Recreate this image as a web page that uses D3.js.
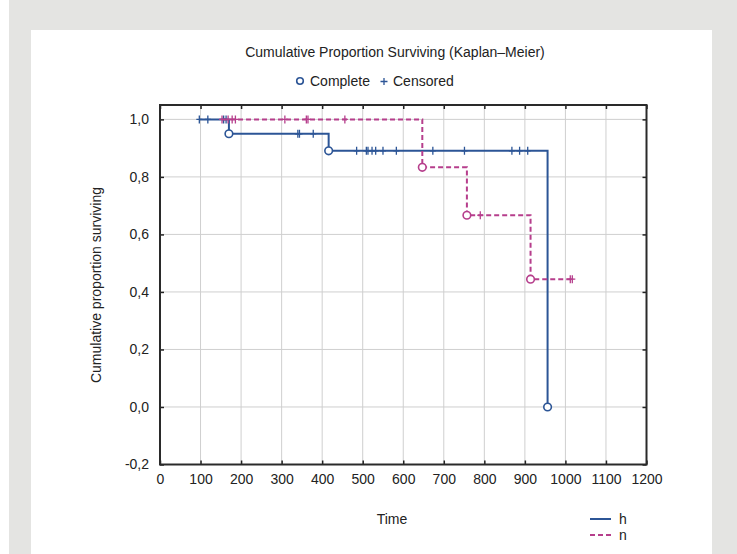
<!DOCTYPE html>
<html>
<head>
<meta charset="utf-8">
<script src="https://cdn.jsdelivr.net/npm/d3@7"></script>
<style>
  html, body { margin: 0; padding: 0; background: #fff; }
  svg { display: block; }
  text { font-family: "Liberation Sans", Arial, sans-serif; fill: #222; }
</style>
</head>
<body>
<svg id="chart" width="737" height="554"></svg>
<script>
// Kaplan–Meier estimates for the two groups
const groups = ["h", "n"];

// group h: event times, survival level after each step, censored times
const hEventTimes = [170, 416, 956];
const hLevels = [1.0, 0.95, 0.8906, 0.0];
const hCensored = [97, 118, 157, 163, 340, 344, 378, 485, 509, 513, 523, 532, 550, 583, 673, 751, 868, 887, 907];

// group n
const nEventTimes = [647, 757, 914];
const nLevels = [1.0, 0.8333, 0.6667, 0.4444];
const nCensored = [153, 168, 178, 186, 308, 361, 365, 456, 790, 1012, 1017];

// axis ticks
const xTicks = [0, 100, 200, 300, 400, 500, 600, 700, 800, 900, 1000, 1100, 1200];
const yTicks = [-0.2, 0.0, 0.2, 0.4, 0.6, 0.8, 1.0];

const colors = { h: "#2c5596", n: "#b63e8c" };
const FS = 14;

const svg = d3.select("#chart");
const W = 737, H = 554;

// page frame
svg.append("rect").attr("x", 0).attr("y", 0).attr("width", W).attr("height", H).attr("fill", "#fff");
svg.append("rect").attr("x", 9).attr("y", 0).attr("width", W - 9).attr("height", H).attr("fill", "#e4e4e2");
svg.append("rect").attr("x", 31).attr("y", 30).attr("width", 681).attr("height", H - 30).attr("fill", "#fff");

const pL = 160, pR = 646.5, pT = 105, pB = 464.5;
const x = d3.scaleLinear().domain([0, 1200]).range([pL, pR]);
const y = d3.scaleLinear().domain([-0.2, 1.05]).range([pB, pT]);

// grid
const grid = svg.append("g");
grid.selectAll("line.gx").data(xTicks.slice(1, -1)).join("line")
  .attr("x1", d => x(d)).attr("x2", d => x(d)).attr("y1", pT).attr("y2", pB)
  .attr("stroke", "#cfcfcf").attr("stroke-width", 1);
grid.selectAll("line.gy").data(yTicks.slice(1)).join("line")
  .attr("y1", d => y(d)).attr("y2", d => y(d)).attr("x1", pL).attr("x2", pR)
  .attr("stroke", "#cfcfcf").attr("stroke-width", 1);

// axes with inward ticks on all four sides
const fmtY = d => d3.format(".1f")(d).replace(".", ",").replace("−", "-");
const axB = svg.append("g").attr("transform", `translate(0,${pB})`)
  .call(d3.axisBottom(x).tickValues(xTicks).tickSizeInner(-4).tickSizeOuter(0).tickPadding(10).tickFormat(d3.format("d")));
const axL = svg.append("g").attr("transform", `translate(${pL},0)`)
  .call(d3.axisLeft(y).tickValues(yTicks).tickSizeInner(-4).tickSizeOuter(0).tickPadding(11).tickFormat(fmtY));
const axT = svg.append("g").attr("transform", `translate(0,${pT})`)
  .call(d3.axisTop(x).tickValues(xTicks).tickSizeInner(-4).tickSizeOuter(0).tickFormat(""));
const axR = svg.append("g").attr("transform", `translate(${pR},0)`)
  .call(d3.axisRight(y).tickValues(yTicks).tickSizeInner(-4).tickSizeOuter(0).tickFormat(""));
[axB, axL, axT, axR].forEach(a => {
  a.select(".domain").remove();
  a.selectAll(".tick line").attr("stroke", "#222").attr("stroke-width", 1.5);
  a.selectAll(".tick text").attr("font-size", FS).attr("fill", "#222")
    .style("font-family", "'Liberation Sans', Arial, sans-serif");
});
svg.append("rect").attr("x", pL).attr("y", pT).attr("width", pR - pL).attr("height", pB - pT)
  .attr("fill", "none").attr("stroke", "#2a2a2a").attr("stroke-width", 2);

// step curves
function steps(eventTimes, levels, censored) {
  const start = Math.min(d3.min(censored), eventTimes[0]);
  const last = Math.max(d3.max(censored), eventTimes[eventTimes.length - 1]);
  const pts = [[start, levels[0]]];
  eventTimes.forEach((t, i) => { pts.push([t, levels[i]]); pts.push([t, levels[i + 1]]); });
  if (levels[levels.length - 1] > 0) pts.push([last, levels[levels.length - 1]]);
  return pts;
}
function levelAt(eventTimes, levels, t) {
  let k = 0;
  eventTimes.forEach((e, i) => { if (t >= e) k = i + 1; });
  return levels[k];
}
const line = d3.line().x(d => x(d[0])).y(d => y(d[1]));

const series = [
  { key: "h", ev: hEventTimes, lv: hLevels, cs: hCensored, dash: null },
  { key: "n", ev: nEventTimes, lv: nLevels, cs: nCensored, dash: "5,3" }
];

series.forEach(s => {
  const g = svg.append("g");
  g.append("path").datum(steps(s.ev, s.lv, s.cs)).attr("d", line)
    .attr("fill", "none").attr("stroke", colors[s.key]).attr("stroke-width", 2)
    .attr("stroke-dasharray", s.dash);
  // censored marks
  g.selectAll("path.c").data(s.cs).join("path")
    .attr("d", t => {
      const cx = x(t), cy = y(levelAt(s.ev, s.lv, t));
      return `M${cx - 3},${cy}H${cx + 3}M${cx},${cy - 4}V${cy + 4}`;
    })
    .attr("stroke", colors[s.key]).attr("stroke-width", 1.3).attr("fill", "none");
  // complete (event) marks
  g.selectAll("circle").data(s.ev).join("circle")
    .attr("cx", t => x(t)).attr("cy", (t, i) => y(s.lv[i + 1])).attr("r", 3.8)
    .attr("fill", "#fff").attr("stroke", colors[s.key]).attr("stroke-width", 1.6);
});

// titles
svg.append("text").attr("x", 395).attr("y", 57).attr("text-anchor", "middle").attr("font-size", FS)
  .text("Cumulative Proportion Surviving (Kaplan–Meier)");
const lg = svg.append("g");
lg.append("circle").attr("cx", 300).attr("cy", 81).attr("r", 3.3).attr("fill", "none")
  .attr("stroke", colors.h).attr("stroke-width", 1.6);
lg.append("text").attr("x", 310).attr("y", 86).attr("font-size", FS).text("Complete");
lg.append("path").attr("d", "M380.5,81.5H387.5M384,78V85").attr("stroke", colors.h).attr("stroke-width", 1.3);
lg.append("text").attr("x", 393).attr("y", 86).attr("font-size", FS).text("Censored");

svg.append("text").attr("transform", "translate(101,285) rotate(-90)").attr("text-anchor", "middle")
  .attr("font-size", FS).text("Cumulative proportion surviving");
svg.append("text").attr("x", 392).attr("y", 524).attr("text-anchor", "middle").attr("font-size", FS).text("Time");

// group legend
const gl = svg.append("g");
groups.forEach((k, i) => {
  const yy = 519 + i * 16;
  gl.append("line").attr("x1", 590).attr("x2", 611).attr("y1", yy).attr("y2", yy)
    .attr("stroke", colors[k]).attr("stroke-width", 2).attr("stroke-dasharray", k === "n" ? "5,3" : null);
  gl.append("text").attr("x", 619).attr("y", yy + 4.5).attr("font-size", FS).text(k);
});
</script>
</body>
</html>
